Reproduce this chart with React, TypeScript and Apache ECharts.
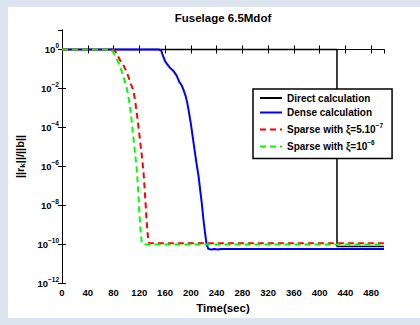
import React, { useEffect, useRef } from "react";
import * as echarts from "echarts";

// ---- data (residual ||r_k||/||b|| vs time in seconds) ----
const directTime = [0, 427, 427, 500];
const directRes = [1, 1, 7.6e-11, 7.6e-11];

const denseTime = [0, 150, 154, 157, 160, 163, 168, 173, 178, 182, 186, 189, 192, 194.5, 197, 200, 203, 206, 209, 212, 214.5, 217, 219.5, 222, 224.5, 227, 232, 237, 242, 247, 500];
const denseRes = [1, 1, 0.89, 0.45, 0.25, 0.18, 0.11, 0.079, 0.045, 0.022, 0.014, 7.9e-3, 4e-3, 1.8e-3, 6.3e-4, 1.6e-4, 3.2e-5, 6.3e-6, 1.3e-6, 3.2e-7, 6.3e-8, 1.3e-8, 2e-9, 4e-10, 1e-10, 5.8e-11, 5.2e-11, 5.6e-11, 5.2e-11, 5.6e-11, 5.6e-11];

const sparse5Time = [0, 80, 83, 87, 91, 95, 99, 103, 107, 111, 114, 117, 119.5, 122, 124.5, 127, 129, 131, 133, 135, 500];
const sparse5Res = [1, 1, 0.79, 0.45, 0.25, 0.16, 0.089, 0.04, 0.016, 7.9e-3, 1.8e-3, 3.2e-4, 6.3e-5, 1.3e-5, 2.5e-6, 3.2e-7, 3.2e-8, 2.5e-9, 3.2e-10, 1.1e-10, 1.1e-10];

const sparse6Time = [0, 76, 79, 82, 86, 90, 94, 98, 101, 104, 107, 109.5, 112, 114, 116, 118, 120, 122, 124, 127, 500];
const sparse6Res = [1, 1, 0.79, 0.5, 0.28, 0.14, 0.056, 0.02, 8.9e-3, 2.5e-3, 5e-4, 7.9e-5, 1.3e-5, 3.2e-6, 7.9e-7, 7.9e-8, 5e-9, 5e-10, 1.1e-10, 9.5e-11, 9.5e-11];

const seriesNames = ["Direct calculation", "Dense calculation", "Sparse with ξ=5.10-7", "Sparse with ξ=10-6"];
const legendRich = [
  "{t|Direct calculation}",
  "{t|Dense calculation}",
  "{t|Sparse with ξ=5.10}{s|−7}",
  "{t|Sparse with ξ=10}{s|−6}",
];

const xMin = 0, xMax = 500, xStep = 40;
const yMinExp = -12, yMaxExp = 1, yStepExp = 2;

const FONT = "'Liberation Sans', Arial, sans-serif";

const toPts = (t: number[], r: number[]) => t.map((x, i) => [x, Math.log10(r[i])]);

export default function App() {
  const ref = useRef<HTMLDivElement>(null);
  useEffect(() => {
    if (!ref.current) return;
    const chart = echarts.init(ref.current, undefined, { renderer: "svg" });
    const axisCommon = {
      axisLine: { show: true, lineStyle: { color: "#000", width: 1 } },
      axisTick: { show: true, inside: true, length: 4, lineStyle: { color: "#000", width: 1 } },
      splitLine: { show: false },
    };
    const xAxisBase = { type: "value", min: xMin, max: xMax, interval: xStep, ...axisCommon };
    const yAxisBase = { type: "value", min: yMinExp, max: yMaxExp, interval: yStepExp, ...axisCommon };
    chart.setOption({
      animation: false,
      title: {
        text: "Fuselage 6.5Mdof",
        left: 223,
        top: 12,
        textAlign: "center",
        padding: 0,
        textStyle: { fontFamily: FONT, fontSize: 11.5, fontWeight: "bold", color: "#000" },
      },
      grid: { left: 62, top: 30, right: 36, bottom: 42, containLabel: false },
      xAxis: [
        {
          ...xAxisBase,
          position: "bottom",
          name: "Time(sec)",
          nameLocation: "middle",
          nameGap: 11,
          nameTextStyle: { fontFamily: FONT, fontSize: 11.5, fontWeight: "bold", color: "#000" },
          axisLabel: { margin: 4, showMaxLabel: false, fontFamily: FONT, fontSize: 9.5, fontWeight: "bold", color: "#000" },
        },
        { ...xAxisBase, position: "top", axisLabel: { show: false } },
      ],
      yAxis: [
        {
          ...yAxisBase,
          position: "left",
          name: "{a|||r}{k|k}{a|||/||b||}",
          nameLocation: "middle",
          nameRotate: 90,
          nameGap: 26,
          nameTextStyle: {
            color: "#000",
            rich: {
              a: { fontFamily: FONT, fontSize: 11, fontWeight: "bold", color: "#000" },
              k: { fontFamily: FONT, fontSize: 8, fontWeight: "bold", color: "#000", padding: [6, 0, 0, 0] },
            },
          },
          axisLabel: {
            margin: 3,
            showMaxLabel: false,
            formatter: (v: number) => `{b|10}{s|${v < 0 ? "−" + Math.abs(v) : v}}`,
            rich: {
              b: { fontFamily: FONT, fontSize: 9.5, fontWeight: "bold", color: "#000" },
              s: { fontFamily: FONT, fontSize: 6.5, fontWeight: "bold", color: "#000", padding: [0, 0, 7, 0] },
            },
          },
        },
        { ...yAxisBase, position: "right", axisLabel: { show: false } },
      ],
      legend: {
        orient: "vertical",
        left: 253,
        top: 89,
        itemWidth: 22,
        itemHeight: 10,
        itemGap: 4.5,
        padding: [4, 9, 7, 6],
        backgroundColor: "#fff",
        borderColor: "#000",
        borderWidth: 1.5,
        selectedMode: false,
        itemStyle: { opacity: 0 },
        data: seriesNames,
        formatter: (name: string) => legendRich[seriesNames.indexOf(name)],
        textStyle: {
          color: "#000",
          rich: {
            t: { fontFamily: FONT, fontSize: 10, fontWeight: "bold", color: "#000" },
            s: { fontFamily: FONT, fontSize: 6.5, fontWeight: "bold", color: "#000", padding: [0, 0, 8, 0] },
          },
        },
      },
      series: [
        {
          name: seriesNames[0], type: "line", symbol: "none", xAxisIndex: 0, yAxisIndex: 0,
          lineStyle: { color: "#000", width: 1.5 }, itemStyle: { color: "#000" },
          data: toPts(directTime, directRes),
        },
        {
          name: seriesNames[1], type: "line", symbol: "none", xAxisIndex: 0, yAxisIndex: 0,
          lineStyle: { color: "#0000ff", width: 2 }, itemStyle: { color: "#0000ff" },
          data: toPts(denseTime, denseRes),
        },
        {
          name: seriesNames[2], type: "line", symbol: "none", xAxisIndex: 0, yAxisIndex: 0,
          lineStyle: { color: "#ff0000", width: 2, type: [6, 4] }, itemStyle: { color: "#ff0000" },
          data: toPts(sparse5Time, sparse5Res),
        },
        {
          name: seriesNames[3], type: "line", symbol: "none", xAxisIndex: 0, yAxisIndex: 0,
          lineStyle: { color: "#00ff00", width: 2, type: [6, 4] }, itemStyle: { color: "#00ff00" },
          data: toPts(sparse6Time, sparse6Res),
        },
      ],
    });
    return () => chart.dispose();
  }, []);

  return (
    <div style={{ position: "absolute", left: 0, top: 0, width: 420, height: 325, background: "#dce4ef" }}>
      <div style={{ position: "absolute", left: 8, top: 7, width: 412, height: 311, background: "#fff" }} />
      <div ref={ref} style={{ position: "absolute", left: 0, top: 0, width: 420, height: 325 }} />
    </div>
  );
}
